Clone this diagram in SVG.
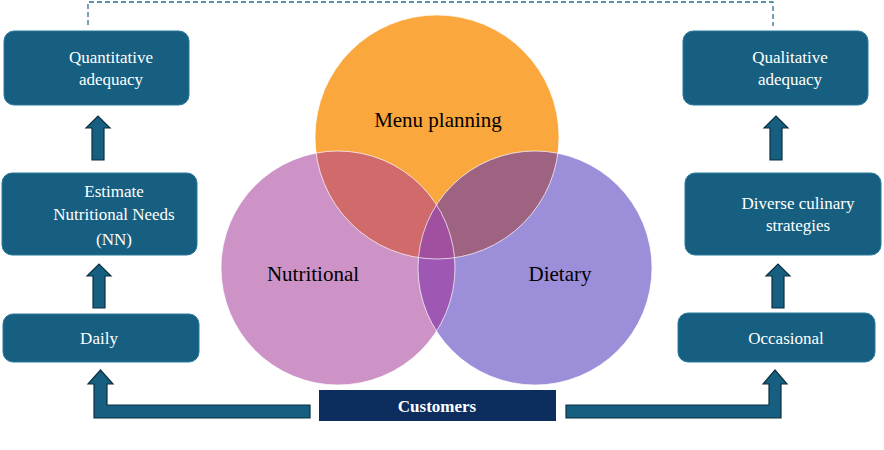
<svg xmlns="http://www.w3.org/2000/svg" width="884" height="450" viewBox="0 0 884 450">
<style>
.box{fill:#175f80;stroke:#2a7a9c;stroke-width:1}
.bt{font-family:"Liberation Serif",serif;font-size:17px;fill:#fff;text-anchor:middle}
.ct{font-family:"Liberation Serif",serif;font-size:21px;fill:#000;text-anchor:middle}
.arr{fill:#175f80;stroke:#0d2f40;stroke-width:1.2}
</style>
<defs>
<clipPath id="cO"><circle cx="437" cy="137" r="122"/></clipPath>
<clipPath id="cP"><circle cx="338" cy="268" r="117"/></clipPath>
</defs>
<g id="connectors">
<path d="M88 25V2H773V26" fill="none" stroke="#2a6f8e" stroke-width="1.3" stroke-dasharray="5,3"/>
<path class="arr" d="M92 160V128H86L98 116L110 128H104V160Z"/>
<path class="arr" d="M93 308V276H87L99 264L111 276H105V308Z"/>
<path class="arr" d="M310 418H94V384H88L100.5 370L113 384H107V405H310Z"/>
<path class="arr" d="M770 160V128H764L776 116L788 128H782V160Z"/>
<path class="arr" d="M772 308V276H766L778 264L790 276H784V308Z"/>
<path class="arr" d="M566 418H781V384H787L775 370L763 384H769V405H566Z"/>
</g>
<g id="venn">
<circle cx="437" cy="137" r="122" fill="#faa83e"/>
<circle cx="338" cy="268" r="117" fill="#cd93c6"/>
<circle cx="535" cy="268" r="117" fill="#9c8ed9"/>
<circle cx="338" cy="268" r="117" fill="#d16a6a" clip-path="url(#cO)"/>
<circle cx="535" cy="268" r="117" fill="#9d6381" clip-path="url(#cO)"/>
<circle cx="535" cy="268" r="117" fill="#9e58b4" clip-path="url(#cP)"/>
<g clip-path="url(#cO)"><circle cx="535" cy="268" r="117" fill="#a0509e" clip-path="url(#cP)"/></g>
<g fill="none" stroke="#fff" stroke-opacity="0.7" stroke-width="1">
<circle cx="437" cy="137" r="122"/><circle cx="338" cy="268" r="117"/><circle cx="535" cy="268" r="117"/>
</g>
<text class="ct" x="438" y="127">Menu planning</text>
<text class="ct" x="313" y="281">Nutritional</text>
<text class="ct" x="560" y="281">Dietary</text>
</g>
<g id="n-quant"><rect class="box" x="4" y="31" width="185" height="74" rx="10"/><text class="bt" x="111" y="63">Quantitative</text><text class="bt" x="111" y="85">adequacy</text></g>
<g id="n-estimate"><rect class="box" x="2" y="173" width="195" height="82" rx="10"/><text class="bt" x="114" y="197">Estimate</text><text class="bt" x="114" y="220">Nutritional Needs</text><text class="bt" x="114" y="245">(NN)</text></g>
<g id="n-daily"><rect class="box" x="3" y="314" width="196" height="48" rx="10"/><text class="bt" x="99" y="344">Daily</text></g>
<g id="n-qual"><rect class="box" x="683" y="31" width="185" height="74" rx="10"/><text class="bt" x="790" y="63">Qualitative</text><text class="bt" x="790" y="85">adequacy</text></g>
<g id="n-diverse"><rect class="box" x="685" y="173" width="196" height="82" rx="10"/><text class="bt" x="798" y="209">Diverse culinary</text><text class="bt" x="798" y="231">strategies</text></g>
<g id="n-occ"><rect class="box" x="678" y="313" width="197" height="49" rx="10"/><text class="bt" x="786" y="344">Occasional</text></g>
<g id="n-customers"><rect x="319" y="390" width="237" height="31" fill="#0c2d5e"/><text x="437" y="412" font-family="Liberation Serif,serif" font-size="17" font-weight="bold" fill="#fff" text-anchor="middle">Customers</text></g>
</svg>
